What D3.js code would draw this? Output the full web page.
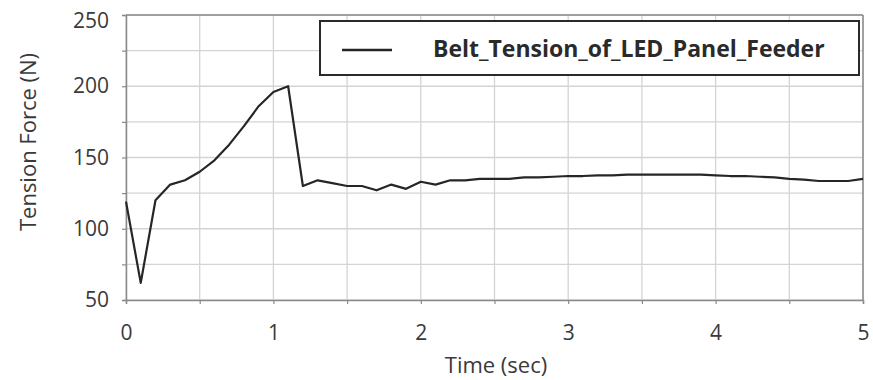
<!DOCTYPE html>
<html><head><meta charset="utf-8">
<script src="https://cdn.jsdelivr.net/npm/d3@7"></script>
<style>
html,body{margin:0;padding:0;background:#fff;}
svg{display:block;}
</style></head>
<body>
<svg id="c" width="873" height="380"></svg>
<script>
const times = [0,0.1,0.2,0.3,0.4,0.5,0.6,0.7,0.8,0.9,1.0,1.1,1.2,1.3,1.4,1.5,1.6,1.7,1.8,1.9,2.0,2.1,2.2,2.3,2.4,2.5,2.6,2.7,2.8,2.9,3.0,3.1,3.2,3.3,3.4,3.5,3.6,3.7,3.8,3.9,4.0,4.1,4.2,4.3,4.4,4.5,4.6,4.7,4.8,4.9,5.0];
const tension = [119,62,120,131,134,140,148,159,172,186,196,200,130,134,132,130,130,127,131,128,133,131,134,134,135,135,135,136,136,136.5,137,137,137.5,137.5,138,138,138,138,138,138,137.5,137,137,136.5,136,135,134.5,133.5,133.5,133.5,135];
const xTicks = [0,1,2,3,4,5];
const yTicks = [50,100,150,200,250];
const seriesName = "Belt_Tension_of_LED_Panel_Feeder";
const xTitle = "Time (sec)";
const yTitle = "Tension Force (N)";

const svg = d3.select("#c");
const L = 126, R = 863, T = 15, B = 300;
const x = d3.scaleLinear().domain([0,5]).range([L,R]);
const y = d3.scaleLinear().domain([50,250]).range([B,T]);
const font = "'Open Sans', 'Noto Sans', sans-serif";
const textCol = "#3a3a3a";

// grid
const gx = d3.range(0,5.01,0.5), gy = d3.range(50,250.1,25);
svg.append("g").selectAll("line").data(gx).join("line")
  .attr("x1",d=>x(d)).attr("x2",d=>x(d)).attr("y1",T).attr("y2",B)
  .attr("stroke","#d4d4d4").attr("stroke-width",1.3);
svg.append("g").selectAll("line").data(gy).join("line")
  .attr("y1",d=>y(d)).attr("y2",d=>y(d)).attr("x1",L).attr("x2",R)
  .attr("stroke","#d4d4d4").attr("stroke-width",1.3);

// axes
const xAxis = svg.append("g").attr("transform",`translate(0,${B})`)
  .call(d3.axisBottom(x).tickValues(gx).tickSize(4).tickFormat(d=>xTicks.includes(d)?d3.format("d")(d):""));
const yAxis = svg.append("g").attr("transform",`translate(${L},0)`)
  .call(d3.axisLeft(y).tickValues(gy).tickSize(4).tickFormat(d=>yTicks.includes(d)?d3.format("d")(d):""));
[xAxis,yAxis].forEach(a=>{
  a.select(".domain").attr("stroke","#8a8a8a").attr("stroke-width",1.5);
  a.selectAll(".tick line").attr("stroke","#8a8a8a").attr("stroke-width",1.2);
  a.selectAll("text").attr("fill",textCol).style("font-family",font).style("font-size","21px");
});
xAxis.selectAll("text").attr("dy","1.55em");
yAxis.selectAll("text").attr("dx","-10px");
yAxis.selectAll(".tick").filter(d=>d===250).select("text").attr("dy","0.58em");
// frame top/right
svg.append("line").attr("x1",L).attr("x2",R).attr("y1",T).attr("y2",T).attr("stroke","#8a8a8a").attr("stroke-width",1.5);
svg.append("line").attr("x1",R).attr("x2",R).attr("y1",T).attr("y2",B).attr("stroke","#8a8a8a").attr("stroke-width",1.5);

// line
const line = d3.line().x((d,i)=>x(times[i])).y(d=>y(d));
svg.append("path").datum(tension).attr("d",line).attr("fill","none")
  .attr("stroke","#262626").attr("stroke-width",2.2).attr("stroke-linejoin","round");

// legend
const lg = svg.append("g");
lg.append("rect").attr("x",320).attr("y",21).attr("width",539).attr("height",54)
  .attr("fill","#fff").attr("stroke","#2a2a2a").attr("stroke-width",2);
lg.append("line").attr("x1",342).attr("x2",392).attr("y1",50).attr("y2",50)
  .attr("stroke","#262626").attr("stroke-width",2.5);
lg.append("text").attr("x",433).attr("y",57).text(seriesName)
  .attr("fill","#2a2a2a").style("font-family",font).style("font-weight","bold").style("font-size","23px");

// titles
svg.append("text").attr("x",496).attr("y",373).attr("text-anchor","middle").text(xTitle)
  .attr("fill",textCol).style("font-family",font).style("font-size","22px");
svg.append("text").attr("transform",`translate(36,142) rotate(-90)`).attr("text-anchor","middle").text(yTitle)
  .attr("fill",textCol).style("font-family",font).style("font-size","22px");
</script>
</body></html>
